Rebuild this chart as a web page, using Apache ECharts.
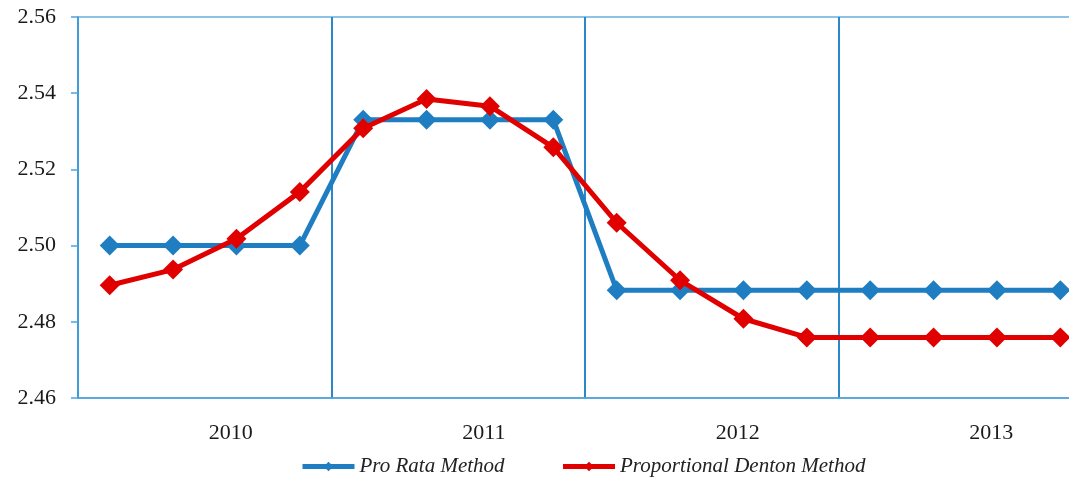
<!DOCTYPE html>
<html>
<head>
<meta charset="utf-8">
<script src="https://cdn.jsdelivr.net/npm/echarts@6/dist/echarts.min.js"></script>
<style>
  html, body { margin: 0; padding: 0; background: #fff; }
  #chart { width: 1069px; height: 479px; }
</style>
</head>
<body>
<div id="chart"></div>
<script>
const years = ['2010', '2011', '2012', '2013']
const quarters = [
  '2010Q1', '2010Q2', '2010Q3', '2010Q4',
  '2011Q1', '2011Q2', '2011Q3', '2011Q4',
  '2012Q1', '2012Q2', '2012Q3', '2012Q4',
  '2013Q1', '2013Q2', '2013Q3', '2013Q4'
]
const proRata = [
  2.500, 2.500, 2.500, 2.500,
  2.533, 2.533, 2.533, 2.533,
  2.4883, 2.4883, 2.4883, 2.4883,
  2.4883, 2.4883, 2.4883, 2.4883
]
const denton = [
  2.4896, 2.4937, 2.5018, 2.5141,
  2.5308, 2.5385, 2.5366, 2.5258,
  2.5060, 2.4909, 2.4808, 2.4759,
  2.4759, 2.4759, 2.4759, 2.4759
]
const yTicks = { min: 2.46, max: 2.56, step: 0.02 }

const serif = '"Liberation Serif", "DejaVu Serif", serif'
const chart = echarts.init(document.getElementById('chart'))

// the original picture is cropped on the right, so the plot runs past the canvas edge
const option = {
  animation: false,
  grid: {
    left: 78,
    top: 17,
    width: 1014,
    bottom: 81,
    outerBoundsMode: 'none',
    containLabel: false,
    show: true,
    borderColor: '#6aaedc',
    borderWidth: 1.5
  },
  legend: {
    left: 300,
    top: 456,
    padding: 0,
    itemWidth: 52,
    itemHeight: 12,
    itemGap: 56,
    lineStyle: { width: 5 },
    textStyle: {
      fontFamily: serif,
      fontStyle: 'italic',
      fontSize: 21,
      color: '#222'
    },
    data: ['Pro Rata Method', 'Proportional Denton Method']
  },
  xAxis: [
    {
      type: 'category',
      data: quarters,
      position: 'bottom',
      axisLine: { show: true, lineStyle: { color: '#4da3e0', width: 1.5 } },
      axisTick: { show: false },
      axisLabel: { show: false },
      splitLine: { show: false }
    },
    {
      type: 'category',
      data: years,
      position: 'bottom',
      axisLine: { show: false },
      axisTick: { show: false },
      axisLabel: {
        margin: 24,
        align: 'left',
        padding: [0, 0, 0, 4],
        fontFamily: serif,
        fontSize: 22,
        color: '#1a1a1a'
      },
      splitLine: { show: true, lineStyle: { color: '#2a87c8', width: 2 } }
    }
  ],
  yAxis: {
    type: 'value',
    min: yTicks.min,
    max: yTicks.max,
    interval: yTicks.step,
    axisLine: { show: true, lineStyle: { color: '#4da3e0', width: 1.5 } },
    axisTick: { show: true, length: 7, lineStyle: { color: '#4da3e0', width: 1.5 } },
    axisLabel: {
      margin: 22,
      fontFamily: serif,
      fontSize: 22,
      color: '#1a1a1a',
      formatter: v => v.toFixed(2)
    },
    splitLine: { show: false }
  },
  series: [
    {
      name: 'Pro Rata Method',
      type: 'line',
      xAxisIndex: 0,
      data: proRata,
      symbol: 'diamond',
      symbolSize: 20,
      lineStyle: { color: '#1f7ec1', width: 5 },
      itemStyle: { color: '#1f7ec1' },
      z: 3
    },
    {
      name: 'Proportional Denton Method',
      type: 'line',
      xAxisIndex: 0,
      data: denton,
      symbol: 'diamond',
      symbolSize: 20,
      lineStyle: { color: '#e00000', width: 5 },
      itemStyle: { color: '#e00000' },
      z: 4
    }
  ]
}

chart.setOption(option)
</script>
</body>
</html>
